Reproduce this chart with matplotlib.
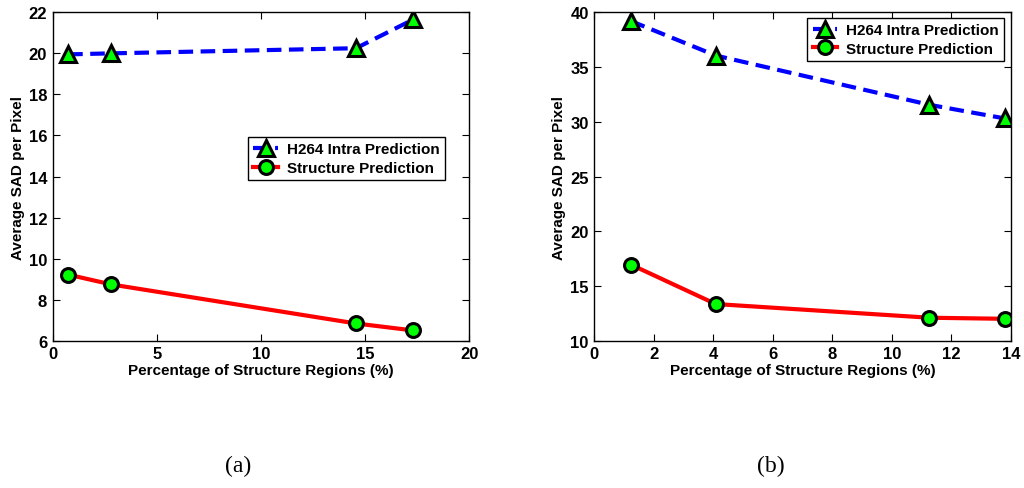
#!/usr/bin/env python3

# Imports
import matplotlib
matplotlib.use('Agg')
import matplotlib.pyplot as plt

plt.rcParams['font.family'] = ['Liberation Sans', 'DejaVu Sans']

# Data
labels = ['H264 Intra Prediction', 'Structure Prediction']

x_a = [0.74, 2.82, 14.56, 17.31]
h264_a = [19.95, 20.0, 20.25, 21.65]
struct_a = [9.22, 8.74, 6.84, 6.5]

x_b = [1.23, 4.08, 11.26, 13.8]
h264_b = [39.2, 36.05, 31.55, 30.3]
struct_b = [16.95, 13.35, 12.1, 12.0]

# Figure and axes
fig = plt.figure(figsize=(10.24, 4.89), dpi=100, facecolor='w')
ax_a = fig.add_axes([0.0515, 0.3012, 0.4068, 0.6716])
ax_b = fig.add_axes([0.5804, 0.3012, 0.4069, 0.6716])

def draw(ax, xs, h264, struct, xlim, ylim, xticks, yticks, legend_anchor):
	ax.plot(xs, h264, color='blue', linestyle=(0, (3.5, 1.8)), linewidth=3,
		marker='^', markersize=11, markerfacecolor='#00ff00',
		markeredgecolor='black', markeredgewidth=2.2, label=labels[0])
	ax.plot(xs, struct, color='red', linestyle='-', linewidth=3,
		marker='o', markersize=10, markerfacecolor='#00ff00',
		markeredgecolor='black', markeredgewidth=2.2, label=labels[1])
	ax.set_xlim(xlim)
	ax.set_ylim(ylim)
	ax.set_xticks(xticks)
	ax.set_yticks(yticks)
	ax.tick_params(direction='in', top=True, right=True, length=5,
		labelsize=12, pad=4)
	for lab in ax.get_xticklabels() + ax.get_yticklabels():
		lab.set_fontweight('bold')
	ax.set_xlabel('Percentage of Structure Regions (%)', fontsize=11,
		fontweight='bold', labelpad=1)
	ax.set_ylabel('Average SAD per Pixel', fontsize=11,
		fontweight='bold', labelpad=3)
	for sp in ax.spines.values():
		sp.set_linewidth(1.0)
	leg = ax.legend(loc='upper right', bbox_to_anchor=legend_anchor,
		fancybox=False, framealpha=1, edgecolor='black', fontsize=11,
		handlelength=1.6, borderpad=0.35, labelspacing=0.3,
		handletextpad=0.6, borderaxespad=0)
	for t in leg.get_texts():
		t.set_fontweight('bold')

draw(ax_a, x_a, h264_a, struct_a, (0, 20), (6, 22), [0, 5, 10, 15, 20],
	list(range(6, 23, 2)), (0.942, 0.62))
draw(ax_b, x_b, h264_b, struct_b, (0, 14), (10, 40), list(range(0, 15, 2)),
	list(range(10, 41, 5)), (0.984, 0.983))

# Captions
fig.text(0.2325, 0.035, '(a)', fontsize=17, family='Liberation Serif', ha='center')
fig.text(0.753, 0.035, '(b)', fontsize=17, family='Liberation Serif', ha='center')

fig.savefig('out.png', dpi=100)
